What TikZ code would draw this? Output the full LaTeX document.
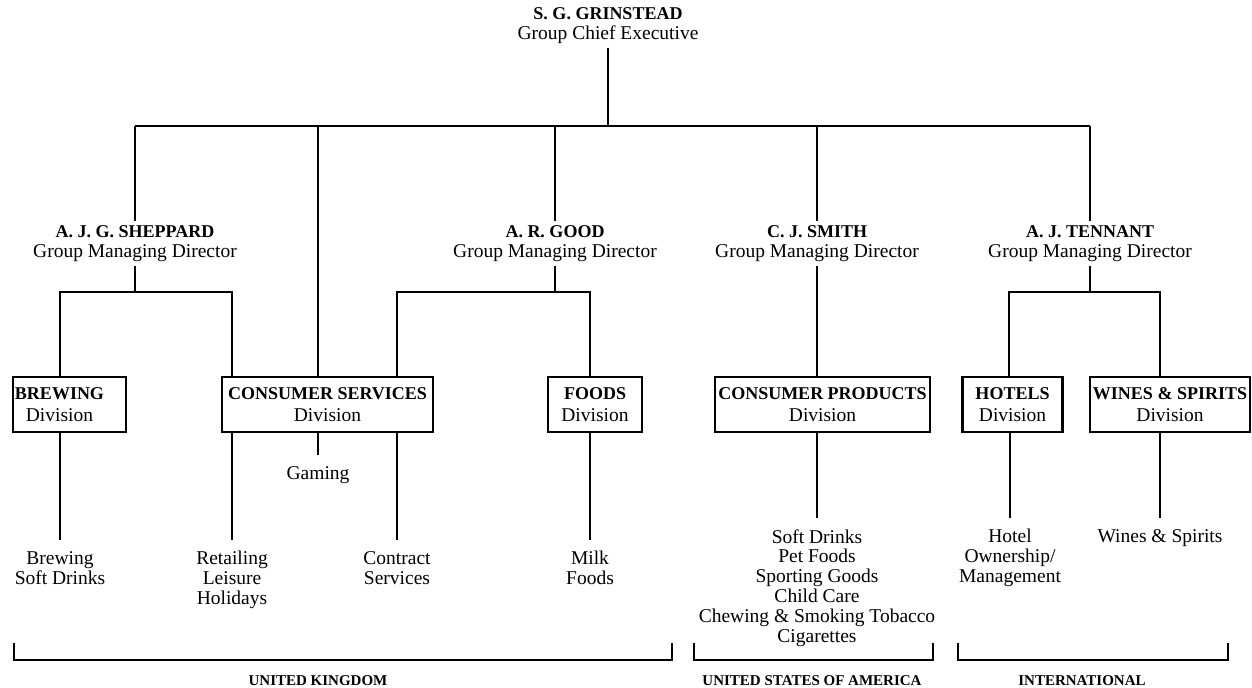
\documentclass[tikz,border=0pt]{standalone}
\usepackage{fontspec}
\setmainfont{Liberation Serif}
\newcommand{\pname}[1]{{\bfseries\fontsize{9}{10}\selectfont #1}}
\newcommand{\bname}[1]{{\bfseries\fontsize{9}{11}\selectfont #1}}
\begin{document}
\begin{tikzpicture}[x=0.5pt,y=-0.5pt,
  ln/.style={line width=1.3pt},
  person/.style={anchor=north, align=center, inner sep=2pt, font=\fontsize{9.75}{10}\selectfont},
  divbox/.style={draw, line width=1.2pt, minimum height=27.5pt, inner sep=0pt, align=center, font=\fontsize{9.75}{11}\selectfont},
  boxtext/.style={align=center, inner sep=0pt, font=\fontsize{9.75}{11}\selectfont},
  items/.style={anchor=north, align=center, inner xsep=0pt, inner ysep=5.5pt, font=\fontsize{9.75}{9.9}\selectfont},
  region/.style={font=\bfseries\fontsize{7.5}{9}\selectfont, inner sep=0pt}
]
\useasboundingbox (0,0) rectangle (1252,687);

% people
\node[person] (gr) at (608,3) {\pname{S. G. GRINSTEAD}\\Group Chief Executive};
\node[person] (shep) at (135,221) {\pname{A. J. G. SHEPPARD}\\Group Managing Director};
\node[person] (good) at (555,221) {\pname{A. R. GOOD}\\Group Managing Director};
\node[person] (smith) at (817,221) {\pname{C. J. SMITH}\\Group Managing Director};
\node[person] (ten) at (1090,221) {\pname{A. J. TENNANT}\\Group Managing Director};

% division boxes
\node[divbox, minimum width=56.5pt] (brew) at (69.5,404.5) {};
\node[boxtext] (brewt) at (59.5,404.5) {\bname{BREWING}\\Division};
\node[divbox, minimum width=105.5pt] (cs) at (327.5,404.5) {\bname{CONSUMER SERVICES}\\Division};
\node[divbox, minimum width=47pt] (foods) at (595,404.5) {\bname{FOODS}\\Division};
\node[divbox, minimum width=107.5pt] (cp) at (822.5,404.5) {\bname{CONSUMER PRODUCTS}\\Division};
\node[divbox, minimum width=50pt] (hot) at (1012.5,404.5) {\bname{HOTELS}\\Division};
\node[divbox, minimum width=80pt] (wine) at (1170,404.5) {\bname{WINES \& SPIRITS}\\Division};

% top level connectors
\coordinate (tb) at (608,126);
\draw[ln] (gr.south) -- (gr.south |- tb);
\draw[ln] (shep.north |- tb) -- (ten.north |- tb);
\foreach \n in {shep,good,smith,ten} \draw[ln] (\n.north |- tb) -- (\n.north);
\coordinate (csd) at (318,126);
\draw[ln] (csd) -- (csd |- cs.north);

% second level
\coordinate (sb) at (0,292);
\coordinate (sbl) at (60,292);
\coordinate (sbr) at (232,292);
\draw[ln] (shep.south) -- (shep.south |- sb);
\draw[ln] (sbl |- brew.north) -- (sbl) -- (sbr) -- (sbr |- cs.north);
\coordinate (gbl) at (397,292);
\coordinate (gbr) at (590,292);
\draw[ln] (good.south) -- (good.south |- sb);
\draw[ln] (gbl |- cs.north) -- (gbl) -- (gbr) -- (gbr |- foods.north);
\draw[ln] (smith.south) -- (smith.south |- cp.north);
\coordinate (tbl) at (1009,292);
\coordinate (tbr) at (1160,292);
\draw[ln] (ten.south) -- (ten.south |- sb);
\draw[ln] (tbl |- hot.north) -- (tbl) -- (tbr) -- (tbr |- wine.north);

% activities
\node[items] (brewi) at (60,540) {Brewing\\Soft Drinks};
\node[items] (reti) at (232,540) {Retailing\\Leisure\\Holidays};
\node[items] (gam) at (318,455) {Gaming};
\node[items] (coni) at (397,540) {Contract\\Services};
\node[items] (milk) at (590,540) {Milk\\Foods};
\node[items] (cpi) at (817,518) {Soft Drinks\\Pet Foods\\Sporting Goods\\Child Care\\Chewing \& Smoking Tobacco\\Cigarettes};
\node[items] (hoti) at (1010,518) {Hotel\\Ownership/\\Management};
\node[items] (wini) at (1160,518) {Wines \& Spirits};

\draw[ln] (brewi.north |- brew.south) -- (brewi.north);
\draw[ln] (reti.north |- cs.south) -- (reti.north);
\draw[ln] (gam.north |- cs.south) -- (gam.north);
\draw[ln] (coni.north |- cs.south) -- (coni.north);
\draw[ln] (milk.north |- foods.south) -- (milk.north);
\draw[ln] (cpi.north |- cp.south) -- (cpi.north);
\draw[ln] (hoti.north |- hot.south) -- (hoti.north);
\draw[ln] (wini.north |- wine.south) -- (wini.north);

% regions
\draw[ln] (14,643) -- (14,660) -- (672,660) -- (672,643);
\node[region] (ukl) at (318,681) {UNITED KINGDOM};
\draw[ln] (694,643) -- (694,660) -- (933,660) -- (933,643);
\node[region] (usl) at (812,681) {UNITED STATES OF AMERICA};
\draw[ln] (958,643) -- (958,660) -- (1228,660) -- (1228,643);
\node[region] (intl) at (1082,681) {INTERNATIONAL};
\end{tikzpicture}
\end{document}
